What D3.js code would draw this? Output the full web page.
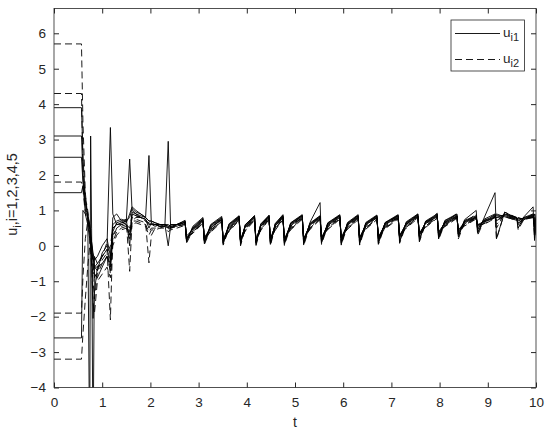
<!DOCTYPE html>
<html>
<head>
<meta charset="utf-8">
<script src="https://cdn.jsdelivr.net/npm/d3@7"></script>
<style>
  body { margin: 0; background: #fff; }
  text { font-family: "Liberation Sans", Arial, sans-serif; fill: #262626; }
</style>
</head>
<body>
<div id="my_dataviz"></div>
<script>
// time samples shared by all series
const times = [0, 0.57, 0.6, 0.65, 0.7, 0.74, 0.76, 0.78, 0.81, 0.84, 0.9, 1.0, 1.1, 1.17, 1.22, 1.3, 1.4, 1.5, 1.57, 1.62,
  1.7, 1.8, 1.9, 1.97, 2.02, 2.1, 2.2, 2.3, 2.37, 2.42, 2.55,
  2.72, 2.75, 2.88, 3.09, 3.12, 3.25, 3.48, 3.51, 3.63, 3.84, 3.87, 3.97, 4.16, 4.19, 4.29, 4.46, 4.49, 4.59,
  4.75, 4.78, 4.91, 5.15, 5.18, 5.31, 5.52, 5.55, 5.68, 5.93, 5.96, 6.09, 6.31, 6.34, 6.47, 6.70, 6.73, 6.87,
  7.14, 7.17, 7.31, 7.55, 7.58, 7.71, 7.95, 7.98, 8.11, 8.36, 8.39, 8.52, 8.76, 8.79, 8.92,
  9.15, 9.18, 9.35, 9.6, 9.63, 9.75, 9.94, 9.97, 10.0];

// u_i1 (solid)
const s1 = [3.9, 3.9, 2.6, 1.2, 0.9, 0.6, 0.3, 0.1, -0.3, -0.6, -0.7, -0.2, 0.0, 3.34, 0.9, 0.6, 0.65, 0.7, 0.8, 1.05,
  0.95, 0.9, 0.8, 0.7, 0.7, 0.65, 0.6, 0.6, 0.55, 0.6, 0.6,
  0.72, 0.1, 0.55, 0.8, 0.06, 0.6, 0.83, 0.05, 0.62, 0.85, 0.04, 0.6, 0.85, 0.03, 0.62, 0.86, 0.04, 0.63,
  0.88, 0.04, 0.65, 0.88, 0.04, 0.66, 1.22, 0.08, 0.65, 0.88, 0.04, 0.66, 0.88, 0.05, 0.66, 0.87, 0.06, 0.66,
  0.88, 0.1, 0.68, 0.9, 0.14, 0.7, 0.9, 0.2, 0.72, 0.9, 0.25, 0.74, 1.0, 0.35, 0.78,
  1.5, 0.2, 0.95, 0.78, 0.5, 0.82, 1.1, 0.15, 0.8];
const s2 = [3.1, 3.1, 2.0, 1.0, 0.95, -6, 3.1, 0.5, -6, -0.3, -0.5, -0.3, -0.1, -0.4, 0.5, 0.6, 0.6, 0.65, 0.9, 1.1,
  1.0, 0.9, 0.8, 0.7, 0.7, 0.65, 0.6, 0.6, 0.6, 0.55, 0.6,
  0.7, 0.14, 0.52, 0.77, 0.1, 0.58, 0.8, 0.08, 0.6, 0.83, 0.07, 0.6, 0.84, 0.07, 0.6, 0.85, 0.08, 0.62,
  0.86, 0.08, 0.64, 0.86, 0.07, 0.64, 0.85, 0.1, 0.64, 0.86, 0.08, 0.64, 0.86, 0.09, 0.64, 0.85, 0.1, 0.65,
  0.86, 0.14, 0.66, 0.88, 0.18, 0.68, 0.88, 0.24, 0.7, 0.88, 0.3, 0.72, 0.85, 0.45, 0.75,
  0.9, 0.7, 0.9, 0.8, 0.6, 0.8, 0.9, 0.35, 0.75];
const s3 = [2.5, 2.5, 1.8, 1.3, 0.8, 0.5, 0.2, 0.0, -2.05, -1.3, -0.6, -0.5, -0.3, -0.6, 0.8, 0.9, 0.7, 0.6, 0.3, 0.95,
  0.9, 0.85, 0.8, 2.55, 0.6, 0.6, 0.6, 0.6, 0.0, 0.55, 0.55,
  0.68, 0.18, 0.5, 0.75, 0.14, 0.56, 0.78, 0.12, 0.58, 0.82, 0.1, 0.58, 0.82, 0.11, 0.6, 0.84, 0.11, 0.6,
  0.84, 0.11, 0.62, 0.85, 0.13, 0.62, 0.84, 0.14, 0.62, 0.85, 0.14, 0.63, 0.84, 0.14, 0.63, 0.84, 0.18, 0.64,
  0.85, 0.24, 0.65, 0.86, 0.28, 0.67, 0.86, 0.3, 0.68, 0.85, 0.35, 0.7, 0.82, 0.5, 0.72,
  0.85, 0.8, 0.88, 0.78, 0.7, 0.8, 0.85, 0.5, 0.85];
const s4 = [1.5, 1.5, 1.7, 1.0, 0.8, 0.6, 0.4, 0.1, -0.2, -0.4, -0.3, 0.0, 0.2, -0.3, 0.6, 0.7, 0.75, 0.7, 2.45, 1.0,
  0.9, 0.8, 0.75, 0.5, 0.65, 0.6, 0.55, 0.6, 0.5, 0.6, 0.6,
  0.66, 0.22, 0.48, 0.72, 0.18, 0.52, 0.76, 0.15, 0.55, 0.8, 0.14, 0.56, 0.8, 0.14, 0.57, 0.82, 0.16, 0.58,
  0.82, 0.15, 0.6, 0.83, 0.17, 0.6, 0.82, 0.19, 0.6, 0.83, 0.19, 0.61, 0.82, 0.19, 0.61, 0.82, 0.21, 0.62,
  0.83, 0.27, 0.63, 0.84, 0.33, 0.65, 0.84, 0.35, 0.66, 0.83, 0.4, 0.68, 0.8, 0.55, 0.7,
  0.82, 0.85, 0.85, 0.75, 0.75, 0.78, 0.82, 0.7, 0.6];
const s5 = [-2.6, -2.6, 1.0, 0.9, 0.6, 0.2, 0.0, -0.2, -0.4, -0.8, -0.9, -0.6, -0.3, -0.5, 0.4, 0.65, 0.7, 0.75, 0.0, 0.9,
  0.85, 0.8, 0.75, 0.6, 0.6, 0.6, 0.55, 0.55, 2.95, 0.5, 0.6,
  0.65, 0.28, 0.46, 0.7, 0.24, 0.5, 0.74, 0.2, 0.52, 0.78, 0.19, 0.54, 0.78, 0.19, 0.55, 0.8, 0.21, 0.56,
  0.8, 0.2, 0.57, 0.8, 0.21, 0.58, 0.8, 0.24, 0.58, 0.8, 0.24, 0.59, 0.8, 0.24, 0.59, 0.8, 0.25, 0.6,
  0.8, 0.3, 0.61, 0.82, 0.35, 0.63, 0.82, 0.4, 0.64, 0.8, 0.45, 0.66, 0.78, 0.6, 0.68,
  0.8, 0.9, 0.82, 0.72, 0.78, 0.76, 0.8, 0.9, 0.3];

// u_i2 (dashed)
const d1 = [5.7, 5.7, 3.5, 1.5, 0.8, 0.3, -0.2, -0.5, -0.8, -0.6, -0.5, -0.3, -0.1, -2.09, 0.3, 0.5, 0.6, 0.6, 0.5, 0.9,
  0.85, 0.8, 0.7, 0.65, 0.6, 0.6, 0.6, 0.55, 0.5, 0.55, 0.6,
  0.7, 0.08, 0.42, 0.76, 0.04, 0.46, 0.8, 0.02, 0.48, 0.84, 0.0, 0.5, 0.85, 0.0, 0.52, 0.86, 0.01, 0.53,
  0.87, 0.01, 0.55, 0.87, 0.0, 0.56, 0.86, 0.04, 0.56, 0.87, 0.02, 0.57, 0.87, 0.02, 0.57, 0.86, 0.04, 0.58,
  0.87, 0.07, 0.6, 0.9, 0.11, 0.62, 0.92, 0.17, 0.64, 0.92, 0.2, 0.66, 0.9, 0.3, 0.7,
  0.88, 0.18, 0.95, 0.8, 0.45, 0.75, 0.9, 0.2, 0.9];
const d2 = [4.3, 4.3, 2.2, 1.4, 1.0, 0.5, 0.2, -0.1, -0.5, -0.9, -0.7, -0.4, -0.2, 0.0, 0.5, 0.6, 0.65, 0.7, -0.72, 0.7,
  0.8, 0.8, 0.7, 0.6, 0.6, 0.55, 0.6, 0.6, 0.55, 0.55, 0.6,
  0.64, 0.16, 0.4, 0.7, 0.11, 0.44, 0.74, 0.09, 0.46, 0.78, 0.09, 0.48, 0.79, 0.09, 0.5, 0.8, 0.11, 0.5,
  0.81, 0.1, 0.52, 0.81, 0.11, 0.53, 0.8, 0.14, 0.53, 0.81, 0.12, 0.54, 0.8, 0.12, 0.54, 0.8, 0.14, 0.55,
  0.82, 0.19, 0.56, 0.84, 0.24, 0.58, 0.85, 0.27, 0.6, 0.84, 0.3, 0.62, 0.82, 0.4, 0.66,
  0.84, 0.5, 0.92, 0.78, 0.55, 0.74, 0.88, 0.4, 0.7];
const d3v = [1.8, 1.8, 1.6, 0.9, 0.7, 0.4, 0.1, -0.3, -1.0, -1.5, -0.8, -0.5, -0.3, -0.7, 0.2, 0.5, 0.55, 0.6, 0.4, 0.8,
  0.75, 0.7, 0.65, -0.48, 0.3, 0.5, 0.55, 0.55, 0.5, 0.5, 0.55,
  0.62, 0.2, 0.38, 0.68, 0.17, 0.42, 0.72, 0.14, 0.44, 0.76, 0.12, 0.46, 0.77, 0.12, 0.47, 0.78, 0.14, 0.48,
  0.78, 0.14, 0.49, 0.79, 0.14, 0.5, 0.78, 0.17, 0.5, 0.79, 0.17, 0.51, 0.78, 0.17, 0.51, 0.78, 0.19, 0.52,
  0.8, 0.24, 0.54, 0.82, 0.29, 0.56, 0.82, 0.31, 0.58, 0.82, 0.37, 0.6, 0.8, 0.5, 0.64,
  0.82, 0.6, 0.88, 0.76, 0.65, 0.74, 0.85, 0.6, 0.55];
const d4 = [-1.9, -1.9, -0.9, 0.2, 0.7, 0.5, 0.1, 0.0, -0.3, -0.6, -0.6, -0.3, 0.1, -0.8, 0.1, 0.4, 0.5, 0.55, 0.3, 0.7,
  0.7, 0.65, 0.6, 0.4, 0.5, 0.5, 0.5, 0.55, 0.45, 0.5, 0.55,
  0.6, 0.23, 0.36, 0.66, 0.19, 0.4, 0.7, 0.17, 0.42, 0.74, 0.17, 0.44, 0.75, 0.17, 0.45, 0.76, 0.19, 0.46,
  0.76, 0.17, 0.47, 0.77, 0.19, 0.48, 0.76, 0.21, 0.48, 0.77, 0.21, 0.49, 0.76, 0.21, 0.49, 0.76, 0.24, 0.5,
  0.78, 0.29, 0.52, 0.8, 0.34, 0.54, 0.8, 0.37, 0.56, 0.8, 0.41, 0.58, 0.78, 0.55, 0.62,
  0.8, 0.7, 0.85, 0.74, 0.72, 0.74, 0.82, 0.75, 0.45];
const d5 = [-3.2, -3.2, -2.5, -1.5, -0.6, 0.0, 0.3, -0.4, -1.6, -1.9, -1.0, -0.8, -0.6, -0.9, 0.0, 0.3, 0.45, 0.5, 0.2, 0.6,
  0.65, 0.6, 0.55, 0.3, 0.45, 0.45, 0.5, 0.5, 0.4, 0.45, 0.5,
  0.58, 0.26, 0.35, 0.64, 0.24, 0.38, 0.68, 0.21, 0.4, 0.72, 0.19, 0.42, 0.72, 0.19, 0.43, 0.74, 0.21, 0.44,
  0.74, 0.19, 0.45, 0.75, 0.21, 0.46, 0.74, 0.24, 0.46, 0.75, 0.24, 0.47, 0.74, 0.24, 0.47, 0.74, 0.27, 0.48,
  0.76, 0.31, 0.5, 0.78, 0.37, 0.52, 0.78, 0.41, 0.54, 0.78, 0.44, 0.56, 0.76, 0.6, 0.6,
  0.78, 0.8, 0.82, 0.72, 0.8, 0.74, 0.8, 0.85, 0.35];

const solidSeries = [s1, s2, s3, s4, s5];
const dashedSeries = [d1, d2, d3v, d4, d5];

const xTicks = [0, 1, 2, 3, 4, 5, 6, 7, 8, 9, 10];
const yTicks = [-4, -3, -2, -1, 0, 1, 2, 3, 4, 5, 6];

const margin = { top: 8.5, right: 14, bottom: 48.5, left: 54 },
    width = 550 - margin.left - margin.right,
    height = 436 - margin.top - margin.bottom;

const svg = d3.select("#my_dataviz")
    .append("svg")
    .attr("width", 550)
    .attr("height", 436)
    .append("g")
    .attr("transform", `translate(${margin.left},${margin.top})`);

const x = d3.scaleLinear().domain([0, 10]).range([0, width]);
const y = d3.scaleLinear().domain([-4, 6.7]).range([height, 0]);

svg.append("clipPath").attr("id", "clip")
    .append("rect").attr("width", width).attr("height", height);

const line = d3.line()
    .x((d, i) => x(times[i]))
    .y(d => y(d));

const plot = svg.append("g").attr("clip-path", "url(#clip)");

plot.selectAll(".solid")
    .data(solidSeries)
    .join("path")
    .attr("class", "solid")
    .attr("d", line)
    .attr("fill", "none")
    .attr("stroke", "#000")
    .attr("stroke-width", 0.9);

plot.selectAll(".dashed")
    .data(dashedSeries)
    .join("path")
    .attr("class", "dashed")
    .attr("d", line)
    .attr("fill", "none")
    .attr("stroke", "#000")
    .attr("stroke-width", 0.9)
    .attr("stroke-dasharray", "7,4");

// axes with inward ticks on all sides
const axisColor = "#262626";
function styleAxis(g) {
    g.select(".domain").remove();
    g.selectAll("line").attr("stroke", axisColor);
    g.selectAll("text").style("font-size", "13.5px").attr("fill", axisColor);
}

svg.append("g")
    .attr("transform", `translate(0,${height})`)
    .call(d3.axisBottom(x).tickValues(xTicks).tickSizeInner(-5).tickSizeOuter(0).tickPadding(10))
    .call(styleAxis);

svg.append("g")
    .call(d3.axisTop(x).tickValues(xTicks).tickSizeInner(-5).tickSizeOuter(0).tickFormat(""))
    .call(styleAxis);

svg.append("g")
    .call(d3.axisLeft(y).tickValues(yTicks).tickSizeInner(-5).tickSizeOuter(0).tickPadding(8))
    .call(styleAxis);

svg.append("g")
    .attr("transform", `translate(${width},0)`)
    .call(d3.axisRight(y).tickValues(yTicks).tickSizeInner(-5).tickSizeOuter(0).tickFormat(""))
    .call(styleAxis);

svg.append("rect")
    .attr("width", width)
    .attr("height", height)
    .attr("fill", "none")
    .attr("stroke", axisColor)
    .attr("stroke-width", 0.8);

// axis labels
svg.append("text")
    .attr("x", width / 2)
    .attr("y", height + 39)
    .attr("text-anchor", "middle")
    .style("font-size", "14px")
    .text("t");

const yLabel = svg.append("text")
    .attr("transform", `translate(${-37},${y(1.45)}) rotate(-90)`)
    .attr("text-anchor", "middle")
    .style("font-size", "14.5px");
yLabel.append("tspan").text("u");
yLabel.append("tspan").attr("dy", 4).style("font-size", "11px").text("i");
yLabel.append("tspan").attr("dy", -4).text(",i=1,2,3,4,5");

// legend
const legend = svg.append("g").attr("transform", `translate(${width - 85},${11.5})`);
legend.append("rect")
    .attr("width", 73.5)
    .attr("height", 51)
    .attr("fill", "#fff")
    .attr("stroke", axisColor)
    .attr("stroke-width", 0.8);

const legendItems = [{ name: "i1", dash: null }, { name: "i2", dash: "7,4" }];
legendItems.forEach((item, i) => {
    const gy = 13.5 + i * 26;
    legend.append("line")
        .attr("x1", 4).attr("x2", 49)
        .attr("y1", gy).attr("y2", gy)
        .attr("stroke", "#000")
        .attr("stroke-width", 0.9)
        .attr("stroke-dasharray", item.dash);
    const t = legend.append("text")
        .attr("x", 52)
        .attr("y", gy + 3)
        .style("font-size", "13.5px");
    t.append("tspan").text("u");
    t.append("tspan").attr("dy", 4).style("font-size", "11px").text(item.name);
});
</script>
</body>
</html>
